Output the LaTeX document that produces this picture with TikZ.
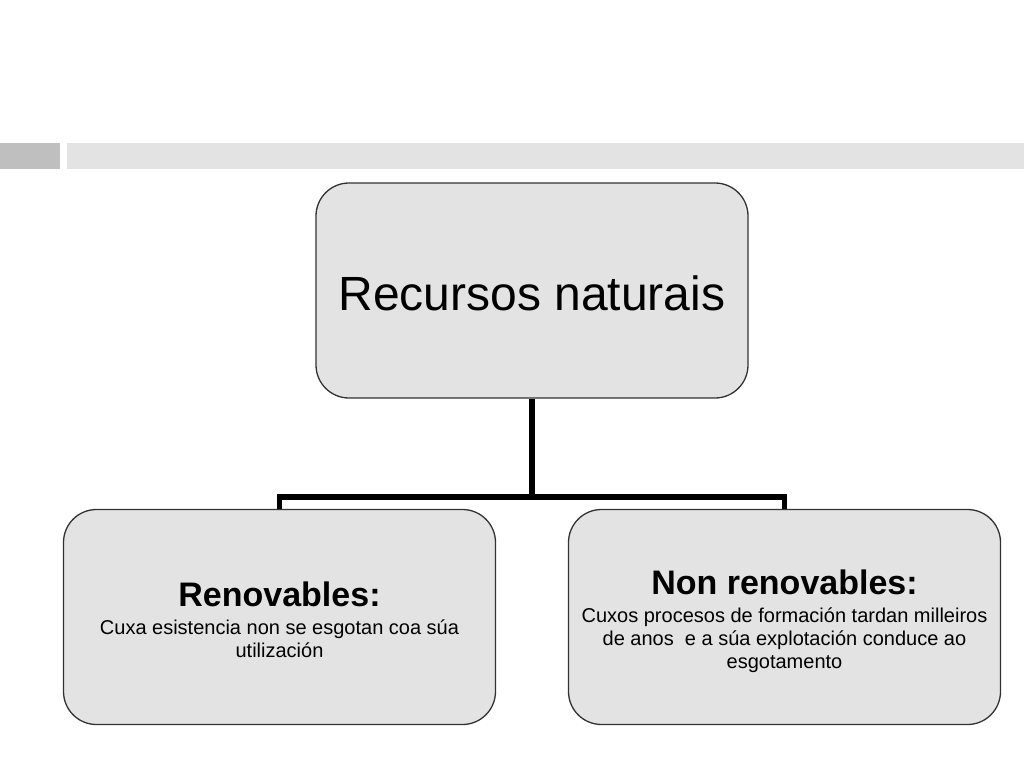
\documentclass[tikz,border=0pt]{standalone}
\usepackage{fontspec}
\setmainfont{Liberation Sans}
\definecolor{boxfill}{RGB}{227,227,227}
\definecolor{boxline}{RGB}{50,50,50}
\definecolor{barleft}{RGB}{191,191,191}
\definecolor{barright}{RGB}{227,227,227}
\newcommand{\headfont}{\fontsize{34}{34}\selectfont\bfseries}
\newcommand{\bodyfont}{\fontsize{20}{23}\selectfont}
\newcommand{\mycenter}{\spaceskip=0pt\xspaceskip=0pt\leftskip=0pt plus 1fil\rightskip=0pt plus 1fil\parfillskip=0pt\parindent=0pt}
\tikzset{
  box/.style={draw=boxline, line width=1.3pt, fill=boxfill, rounded corners=33pt,
    minimum width=432pt, minimum height=215pt, inner sep=0pt},
  boxtext/.style={text width=420pt, inner sep=0pt},
  conn/.style={line width=5.5pt, draw=black, line join=miter}
}
\begin{document}
\begin{tikzpicture}[x=1pt,y=-1pt]
\useasboundingbox (0,0) rectangle (1024,768);
\fill[white] (0,0) rectangle (1024,768);
% header bars
\fill[barleft] (0,143) rectangle (60,169);
\fill[barright] (67,143) rectangle (1024,169);
% boxes
\node[box, text height=39pt, text depth=0pt] (top) at (532,290.5) {\fontsize{48}{56}\selectfont Recursos naturais};
\node[box] (lbox) at (279.5,617) {};
\node[box] (rbox) at (784.5,617) {};
\node[boxtext] (ltext) at (279.5,619.5) {\mycenter
  {\headfont Renovables:\par}\vspace{5pt}
  {\bodyfont Cuxa esistencia non se esgotan coa súa\\ utilización\par}};
\node[boxtext] (rtext) at (784.5,621) {\mycenter
  {\headfont Non renovables:\par}\vspace{5pt}
  {\bodyfont Cuxos procesos de formación tardan milleiros\\ de anos~ e a súa explotación conduce ao\\ esgotamento\par}};
% connectors
\coordinate (j) at (532,497);
\draw[conn] (top.south) -- (j);
\draw[conn] (lbox.north) |- (j) -| (rbox.north);
\end{tikzpicture}
\end{document}
